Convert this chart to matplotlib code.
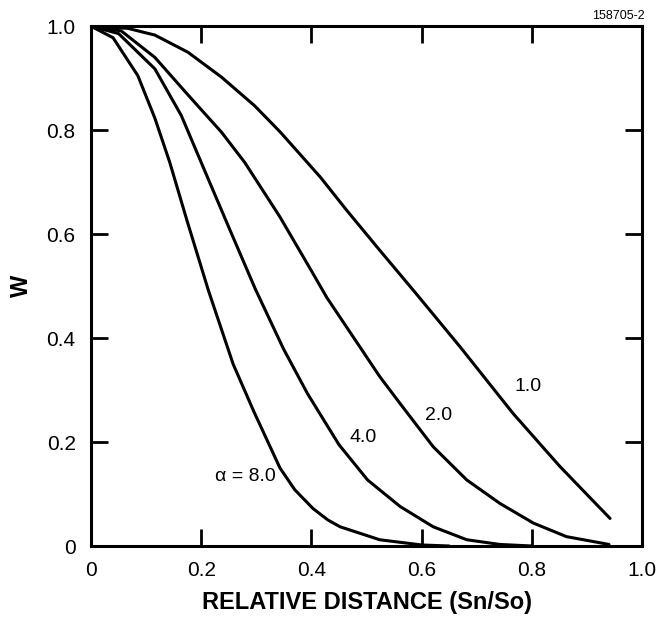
import matplotlib
matplotlib.use("Agg")
import matplotlib.pyplot as plt

plt.rcParams["font.family"] = ["Liberation Sans", "DejaVu Sans"]

# Values (W vs relative distance, one curve per alpha)
x_a1 = [0.0, 0.067, 0.116, 0.176, 0.237, 0.297, 0.343, 0.416, 0.464, 0.524,
        0.585, 0.670, 0.766, 0.851, 0.942]
w_a1 = [1.0, 0.996, 0.983, 0.950, 0.902, 0.847, 0.797, 0.710, 0.646, 0.569,
        0.492, 0.383, 0.255, 0.153, 0.053]

x_a2 = [0.0, 0.055, 0.116, 0.176, 0.237, 0.279, 0.343, 0.403, 0.428, 0.488,
        0.524, 0.561, 0.621, 0.682, 0.742, 0.803, 0.863, 0.94]
w_a2 = [1.0, 0.991, 0.940, 0.868, 0.796, 0.738, 0.633, 0.524, 0.478, 0.383,
        0.326, 0.274, 0.191, 0.127, 0.082, 0.044, 0.018, 0.003]

x_a4 = [0.0, 0.050, 0.116, 0.164, 0.200, 0.253, 0.298, 0.349, 0.393, 0.450,
        0.502, 0.561, 0.621, 0.682, 0.742, 0.80]
w_a4 = [1.0, 0.986, 0.918, 0.828, 0.738, 0.606, 0.495, 0.380, 0.293, 0.195,
        0.127, 0.076, 0.037, 0.012, 0.003, 0.0]

x_a8 = [0.0, 0.040, 0.085, 0.116, 0.143, 0.174, 0.213, 0.258, 0.295, 0.343,
        0.370, 0.403, 0.430, 0.452, 0.524, 0.60, 0.65]
w_a8 = [1.0, 0.978, 0.905, 0.823, 0.738, 0.627, 0.492, 0.350, 0.260, 0.150,
        0.108, 0.072, 0.050, 0.037, 0.012, 0.002, 0.0]

curve_labels = ["1.0", "2.0", "4.0", "\u03b1 = 8.0"]
label_pos = [(0.793, 0.306), (0.631, 0.252), (0.493, 0.208), (0.28, 0.133)]

ticks = [0, 0.2, 0.4, 0.6, 0.8, 1.0]
tick_labels = ["0", "0.2", "0.4", "0.6", "0.8", "1.0"]

fig = plt.figure(figsize=(6.56, 6.18), dpi=100)
ax = fig.add_axes([0.1387, 0.1165, 0.840, 0.841])

for xs, ws in [(x_a1, w_a1), (x_a2, w_a2), (x_a4, w_a4), (x_a8, w_a8)]:
    ax.plot(xs, ws, color="black", lw=2.2, solid_capstyle="round",
            solid_joinstyle="round")

for lab, (lx, ly) in zip(curve_labels, label_pos):
    ax.text(lx, ly, lab, ha="center", va="center", fontsize=14)

ax.set_xlim(0, 1.0)
ax.set_ylim(0, 1.0)
ax.set_xticks(ticks)
ax.set_xticklabels(tick_labels)
ax.set_yticks(ticks)
ax.set_yticklabels(tick_labels)
ax.tick_params(direction="in", length=12, width=2, labelsize=15,
               top=True, right=True, pad=11)
for s in ax.spines.values():
    s.set_linewidth(2.2)

ax.set_xlabel("RELATIVE DISTANCE (Sn/So)", fontsize=17, fontweight="bold", labelpad=8)
ax.set_ylabel("W", fontsize=17, fontweight="bold", labelpad=10)

fig.text(0.983, 0.974, "158705-2", ha="right", va="center", fontsize=9)

fig.savefig("out.png", dpi=100)
